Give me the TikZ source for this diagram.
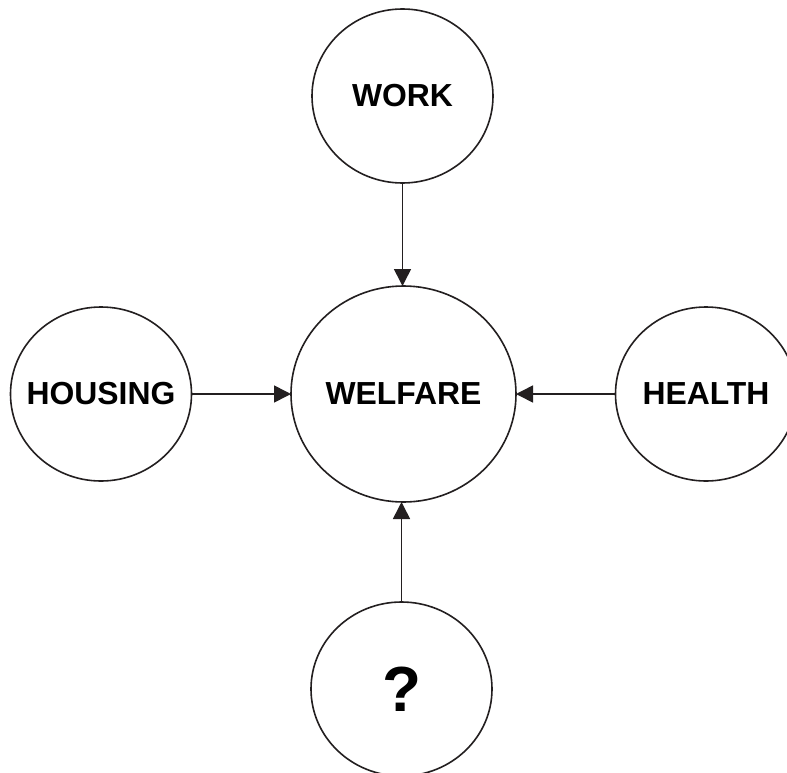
\documentclass[tikz,border=0pt]{standalone}
\usepackage{fontspec}
\setmainfont{Liberation Sans}
\usetikzlibrary{shapes.geometric,arrows.meta}
\definecolor{ink}{HTML}{231F20}
\newcommand{\zw}[1]{\makebox[0pt]{#1}}
\tikzset{
  bubble/.style={ellipse, draw=ink, line width=1.6bp, inner sep=0pt, outer sep=0pt,
    minimum width=181bp, minimum height=174bp,
    font=\fontsize{32}{38}\selectfont\bfseries, text=black},
  bigbubble/.style={bubble, minimum width=225bp, minimum height=216bp},
  link/.style={draw=ink, line width=1.6bp, -{Triangle[length=17bp,width=17bp]}}
}
\begin{document}
\begin{tikzpicture}[x=1bp,y=-1bp]
\useasboundingbox (0,0) rectangle (787,773);
\clip (0,0) rectangle (787,773);
\fill[white] (0,0) rectangle (787,773);
\node[bigbubble] (welfare) at (403.5,394) {\zw{WELFARE}};
\node[bubble] (work) at (402.5,96) {\zw{WORK}};
\node[bubble] (housing) at (101,394) {\zw{HOUSING}};
\node[bubble] (health) at (706,394) {\zw{HEALTH}};
\node[bubble, font=\fontsize{64}{70}\selectfont\bfseries] (q) at (401.5,689) {\zw{?}};
\draw[link] (work.south) -- (work.south |- welfare.north);
\draw[link] (housing.east) -- (welfare.west);
\draw[link] (health.west) -- (welfare.east);
\draw[link] (q.north) -- (q.north |- welfare.south);
\end{tikzpicture}
\end{document}
